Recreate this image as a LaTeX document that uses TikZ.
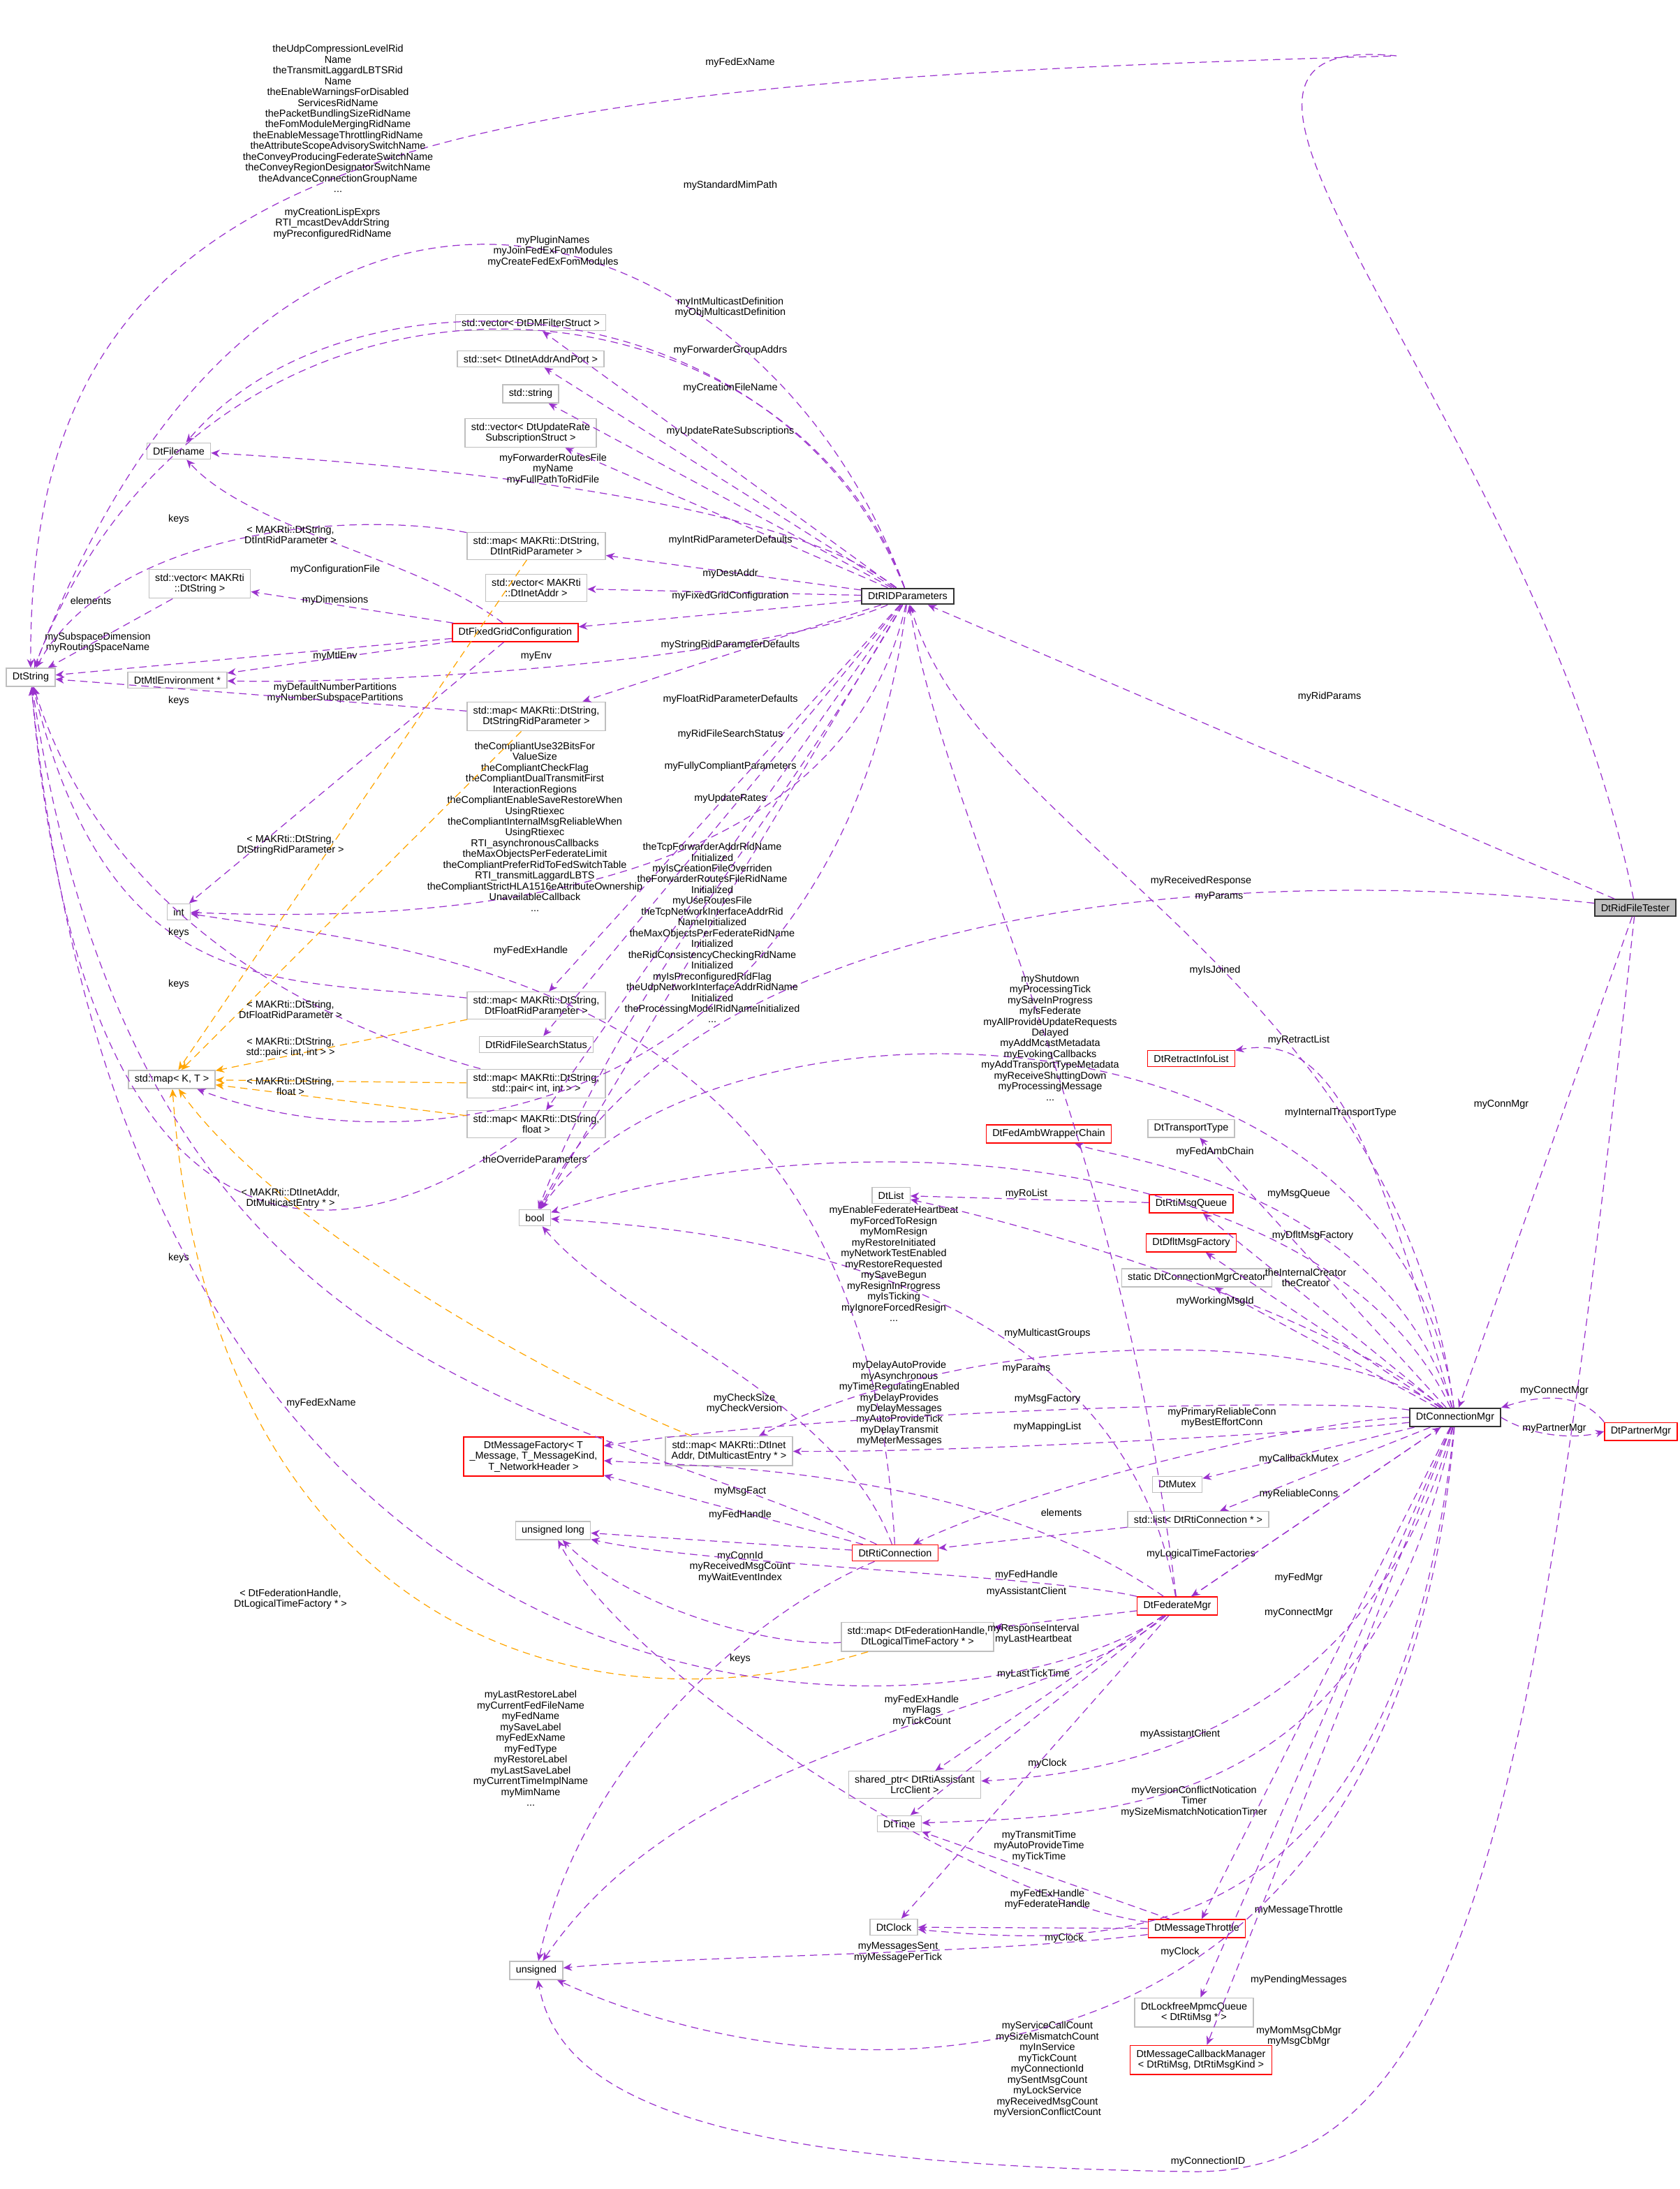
\documentclass[tikz,border=0pt]{standalone}
\usepackage{fontspec}
\setmainfont{Liberation Sans}
\usetikzlibrary{arrows.meta}
\definecolor{pur}{HTML}{9A32CD}
\definecolor{org}{HTML}{FFA500}
\definecolor{bd}{HTML}{BFBFBF}
\begin{document}
\begin{tikzpicture}[x=0.02cm,y=-0.02cm,font=\fontsize{4.1}{4.4}\selectfont,
 n/.style={draw=bd,fill=white,inner xsep=2.5pt,inner ysep=1.8pt,align=center,line width=0.4pt},
 r/.style={n,draw=red},
 e/.style={draw=pur,densely dashed,-{Stealth[length=3.5pt,width=3pt]},line width=0.35pt},
 o/.style={e,draw=org},
 l/.style={align=center,inner sep=0pt}]
\useasboundingbox (0,0) rectangle (1202.5,1567.5);
% nodes
\node[n,fill=bd,draw=black!80,line width=0.6pt] (tester) at (1171,650) {DtRidFileTester};
\node[n,draw=black!80,line width=0.6pt] (rid) at (650,427) {DtRIDParameters};
\node[n,draw=black!80,line width=0.6pt] (cm) at (1042,1015) {DtConnectionMgr};
\node[r] (pm) at (1175,1025) {DtPartnerMgr};
\node[n] (str) at (22,485) {DtString};
\node[n] (fn) at (128,323) {DtFilename};
\node[n] (vstr) at (143,418) {std::vector< MAKRti\\::DtString >};
\node[n] (mtl) at (127,487) {DtMtlEnvironment *};
\node[n] (int) at (128,653) {int};
\node[n] (mkt) at (123,773) {std::map< K, T >};
\node[n] (bool) at (383,872) {bool};
\node[n] (ul) at (396,1096) {unsigned long};
\node[n] (uns) at (384,1411) {unsigned};
\node[r] (mf) at (382,1043) {DtMessageFactory< T\\\_Message, T\_MessageKind,\\T\_NetworkHeader >};
\node[r] (rc) at (641,1112) {DtRtiConnection};
\node[r] (fgc) at (369,453) {DtFixedGridConfiguration};
\node[n] (vdm) at (380,231) {std::vector< DtDMFilterStruct >};
\node[n] (sset) at (380,257) {std::set< DtInetAddrAndPort >};
\node[n] (sstr) at (380,282) {std::string};
\node[n] (vur) at (380,310) {std::vector< DtUpdateRate\\SubscriptionStruct >};
\node[n] (mint) at (384,391) {std::map< MAKRti::DtString,\\DtIntRidParameter >};
\node[n] (vin) at (384,421) {std::vector< MAKRti\\::DtInetAddr >};
\node[n] (mstr) at (384,513) {std::map< MAKRti::DtString,\\DtStringRidParameter >};
\node[n] (mflt) at (384,720) {std::map< MAKRti::DtString,\\DtFloatRidParameter >};
\node[n] (rfs) at (384,748) {DtRidFileSearchStatus};
\node[n] (mpair) at (384,776) {std::map< MAKRti::DtString,\\std::pair< int, int > >};
\node[n] (mfl) at (384,805) {std::map< MAKRti::DtString,\\float >};
\node[n] (minet) at (522,1039) {std::map< MAKRti::DtInet\\Addr, DtMulticastEntry * >};
\node[n] (mfed) at (657,1172) {std::map< DtFederationHandle,\\DtLogicalTimeFactory * >};
\node[n] (sp) at (655,1278) {shared\_ptr< DtRtiAssistant\\LrcClient >};
\node[n] (time) at (644,1306) {DtTime};
\node[n] (clock) at (640,1380) {DtClock};
\node[r] (fm) at (843,1150) {DtFederateMgr};
\node[r] (mt) at (857,1381) {DtMessageThrottle};
\node[r] (ril) at (853,758) {DtRetractInfoList};
\node[n] (tt) at (853,808) {DtTransportType};
\node[r] (fac) at (751,812) {DtFedAmbWrapperChain};
\node[n] (list) at (638,856) {DtList};
\node[r] (mq) at (853,862) {DtRtiMsgQueue};
\node[r] (dmf) at (853,890) {DtDfltMsgFactory};
\node[n] (scc) at (857,915) {static DtConnectionMgrCreator};
\node[n] (mutex) at (843,1063) {DtMutex};
\node[n] (lrc) at (858,1088) {std::list< DtRtiConnection * >};
\node[n] (lf) at (855,1441) {DtLockfreeMpmcQueue\\< DtRtiMsg * >};
\node[r] (mcb) at (860,1475) {DtMessageCallbackManager\\< DtRtiMsg, DtRtiMsgKind >};
% tester
\coordinate (t1) at (1000,40);
\draw[e] (tester) .. controls (1100,300) and (800,20) .. (t1) .. controls (300,60) and (20,100) .. (str);
\node[l] at (530,45) {myFedExName};
\draw[e] (tester) -- (rid); \node[l] at (952,499) {myRidParams};
\draw[e] (tester) .. controls (900,620) and (500,640) .. (bool); \node[l] at (860,631) {myReceivedResponse};
\draw[e] (tester) -- (cm); \node[l] at (1075,791) {myConnMgr};
\draw[e] (tester) .. controls (1100,1300) and (1050,1560) .. (850,1555) .. controls (500,1550) and (400,1500) .. (uns);
\node[l] at (865,1548) {myConnectionID};
% rid
\draw[e] (rid) .. controls (550,150) and (200,20) .. (str);
\node[l] at (242,85) {theUdpCompressionLevelRid\\Name\\theTransmitLaggardLBTSRid\\Name\\theEnableWarningsForDisabled\\ServicesRidName\\thePacketBundlingSizeRidName\\theFomModuleMergingRidName\\theEnableMessageThrottlingRidName\\theAttributeScopeAdvisorySwitchName\\theConveyProducingFederateSwitchName\\theConveyRegionDesignatorSwitchName\\theAdvanceConnectionGroupName\\...};
\draw[e] (rid) .. controls (560,180) and (150,150) .. (str);
\node[l] at (238,160) {myCreationLispExprs\\RTI\_mcastDevAddrString\\myPreconfiguredRidName};
\node[l] at (523,133) {myStandardMimPath};
\draw[e] (rid) .. controls (560,200) and (250,180) .. (fn);
\node[l] at (396,180) {myPluginNames\\myJoinFedExFomModules\\myCreateFedExFomModules};
\draw[e] (rid) .. controls (550,350) and (250,330) .. (fn);
\node[l] at (396,336) {myForwarderRoutesFile\\myName\\myFullPathToRidFile};
\draw[e] (rid) -- (vdm); \node[l] at (523,220) {myIntMulticastDefinition\\myObjMulticastDefinition};
\draw[e] (rid) -- (sset); \node[l] at (523,251) {myForwarderGroupAddrs};
\draw[e] (rid) -- (sstr); \node[l] at (523,278) {myCreationFileName};
\draw[e] (rid) -- (vur); \node[l] at (523,309) {myUpdateRateSubscriptions};
\draw[e] (rid) -- (mint); \node[l] at (523,387) {myIntRidParameterDefaults};
\draw[e] (rid) -- (vin); \node[l] at (523,411) {myDestAddr};
\draw[e] (rid) -- (fgc); \node[l] at (523,427) {myFixedGridConfiguration};
\draw[e] (rid) .. controls (550,470) and (300,490) .. (mtl); \node[l] at (384,470) {myEnv};
\draw[e] (rid) -- (mstr); \node[l] at (523,462) {myStringRidParameterDefaults};
\draw[e] (rid) -- (mflt); \node[l] at (523,501) {myFloatRidParameterDefaults};
\draw[e] (rid) -- (rfs); \node[l] at (523,526) {myRidFileSearchStatus};
\draw[e] (rid) -- (bool); \node[l] at (523,549) {myFullyCompliantParameters};
\draw[e] (rid) -- (mfl); \node[l] at (523,572) {myUpdateRates};
\draw[e] (rid) .. controls (600,650) and (300,660) .. (int);
\node[l] at (383,592) {theCompliantUse32BitsFor\\ValueSize\\theCompliantCheckFlag\\theCompliantDualTransmitFirst\\InteractionRegions\\theCompliantEnableSaveRestoreWhen\\UsingRtiexec\\theCompliantInternalMsgReliableWhen\\UsingRtiexec\\RTI\_asynchronousCallbacks\\theMaxObjectsPerFederateLimit\\theCompliantPreferRidToFedSwitchTable\\RTI\_transmitLaggardLBTS\\theCompliantStrictHLA1516eAttributeOwnership\\UnavailableCallback\\...};
\draw[e] (rid) .. controls (550,600) and (450,700) .. (bool);
\node[l] at (510,668) {theTcpForwarderAddrRidName\\Initialized\\myIsCreationFileOverriden\\theForwarderRoutesFileRidName\\Initialized\\myUseRoutesFile\\theTcpNetworkInterfaceAddrRid\\NameInitialized\\theMaxObjectsPerFederateRidName\\Initialized\\theRidConsistencyCheckingRidName\\Initialized\\myIsPreconfiguredRidFlag\\theUdpNetworkInterfaceAddrRidName\\Initialized\\theProcessingModelRidNameInitialized\\...};
\draw[e] (rid) .. controls (600,800) and (300,840) .. (mkt); \node[l] at (383,830) {theOverrideParameters};
% fixed grid
\draw[e] (fgc) .. controls (300,400) and (180,380) .. (fn); \node[l] at (240,408) {myConfigurationFile};
\draw[e] (fgc) -- (vstr); \node[l] at (240,430) {myDimensions};
\draw[e] (fgc) -- (str); \node[l] at (70,460) {mySubspaceDimension\\myRoutingSpaceName};
\draw[e] (fgc) -- (mtl); \node[l] at (240,470) {myMtlEnv};
\draw[e] (fgc) -- (int); \node[l] at (240,496) {myDefaultNumberPartitions\\myNumberSubspacePartitions};
\draw[e] (vstr) -- (str); \node[l] at (65,430) {elements};
% keys
\draw[e] (mint) .. controls (250,365) and (80,380) .. (str); \node[l] at (128,372) {keys};
\draw[e] (mstr) -- (str); \node[l] at (128,502) {keys};
\draw[e] (mflt) .. controls (200,700) and (80,720) .. (str); \node[l] at (128,705) {keys};
\draw[e] (mpair) .. controls (250,740) and (80,670) .. (str); \node[l] at (128,668) {keys};
\draw[e] (mfl) .. controls (250,900) and (60,930) .. (str); \node[l] at (128,901) {keys};
% template
\draw[o] (mint) -- (mkt); \node[l] at (208,383) {< MAKRti::DtString,\\DtIntRidParameter >};
\draw[o] (mstr) -- (mkt); \node[l] at (208,605) {< MAKRti::DtString,\\DtStringRidParameter >};
\draw[o] (mflt) -- (mkt); \node[l] at (208,723) {< MAKRti::DtString,\\DtFloatRidParameter >};
\draw[o] (mpair) -- (mkt); \node[l] at (208,750) {< MAKRti::DtString,\\std::pair< int, int > >};
\draw[o] (mfl) -- (mkt); \node[l] at (208,778) {< MAKRti::DtString,\\float >};
\draw[o] (minet) .. controls (400,990) and (200,880) .. (mkt); \node[l] at (208,858) {< MAKRti::DtInetAddr,\\DtMulticastEntry * >};
\draw[o] (mfed) .. controls (400,1250) and (150,1150) .. (mkt); \node[l] at (208,1145) {< DtFederationHandle,\\DtLogicalTimeFactory * >};
% rti connection
\draw[e] (rc) -- (mf); \node[l] at (530,1068) {myMsgFact};
\draw[e] (rc) -- (ul); \node[l] at (530,1085) {myFedHandle};
\draw[e] (rc) .. controls (400,1000) and (100,1000) .. (str); \node[l] at (230,1005) {myFedExName};
\draw[e] (rc) .. controls (600,1000) and (450,950) .. (bool); \node[l] at (533,1005) {myCheckSize\\myCheckVersion};
\draw[e] (rc) .. controls (620,700) and (300,680) .. (int); \node[l] at (380,681) {myFedExHandle};
\draw[e] (rc) .. controls (550,1150) and (420,1250) .. (uns); \node[l] at (530,1122) {myConnId\\myReceivedMsgCount\\myWaitEventIndex};
\draw[e] (mfed) .. controls (550,1180) and (450,1150) .. (ul); \node[l] at (530,1188) {keys};
\draw[e] (lrc) -- (rc); \node[l] at (760,1083) {elements};
% federate mgr
\draw[e] (fm) .. controls (700,1250) and (100,1300) .. (str);
\node[l] at (380,1252) {myLastRestoreLabel\\myCurrentFedFileName\\myFedName\\mySaveLabel\\myFedExName\\myFedType\\myRestoreLabel\\myLastSaveLabel\\myCurrentTimeImplName\\myMimName\\...};
\draw[e] (fm) .. controls (800,900) and (500,880) .. (bool);
\node[l] at (640,905) {myEnableFederateHeartbeat\\myForcedToResign\\myMomResign\\myRestoreInitiated\\myNetworkTestEnabled\\myRestoreRequested\\mySaveBegun\\myResignInProgress\\myIsTicking\\myIgnoreForcedResign\\...};
\draw[e] (fm) .. controls (800,800) and (680,600) .. (rid); \node[l] at (735,980) {myParams};
\draw[e] (fm) .. controls (700,1050) and (500,1050) .. (mf);
\node[l] at (644,1005) {myDelayAutoProvide\\myAsynchronous\\myTimeRegulatingEnabled\\myDelayProvides\\myDelayMessages\\myAutoProvideTick\\myDelayTransmit\\myMeterMessages};
\draw[e] (fm) -- (mfed); \node[l] at (860,1113) {myLogicalTimeFactories};
\draw[e] (fm) .. controls (750,1128) and (500,1120) .. (ul); \node[l] at (735,1128) {myFedHandle};
\draw[e] (fm) -- (sp); \node[l] at (735,1140) {myAssistantClient};
\draw[e] (fm) -- (time); \node[l] at (740,1170) {myResponseInterval\\myLastHeartbeat};
\node[l] at (740,1199) {myLastTickTime};
\draw[e] (fm) .. controls (750,1230) and (500,1240) .. (uns); \node[l] at (660,1225) {myFedExHandle\\myFlags\\myTickCount};
\draw[e] (fm) -- (clock); \node[l] at (750,1263) {myClock};
\draw[e] (fm) -- (cm); \node[l] at (930,1155) {myConnectMgr};
% throttle
\draw[e] (mt) -- (time); \node[l] at (744,1322) {myTransmitTime\\myAutoProvideTime\\myTickTime};
\draw[e] (mt) -- (clock); \node[l] at (762,1388) {myClock};
\draw[e] (mt) .. controls (700,1400) and (500,1400) .. (uns); \node[l] at (643,1398) {myMessagesSent\\myMessagePerTick};
\draw[e] (mt) .. controls (700,1360) and (450,1200) .. (ul); \node[l] at (750,1360) {myFedExHandle\\myFederateHandle};
\draw[e] (mq) -- (list); \node[l] at (735,855) {myRoList};
% connection mgr
\draw[e] (cm) .. controls (1000,700) and (700,600) .. (rid); \node[l] at (873,642) {myParams};
\draw[e] (cm) .. controls (1000,700) and (500,700) .. (bool); \node[l] at (870,695) {myIsJoined};
\draw[e] (cm) .. controls (950,820) and (600,800) .. (bool);
\node[l] at (752,743) {myShutdown\\myProcessingTick\\mySaveInProgress\\myIsFederate\\myAllProvideUpdateRequests\\Delayed\\myAddMcastMetadata\\myEvokingCallbacks\\myAddTransportTypeMetadata\\myReceiveShuttingDown\\myProcessingMessage\\...};
\draw[e] (cm) .. controls (980,800) and (950,740) .. (ril); \node[l] at (930,745) {myRetractList};
\draw[e] (cm) -- (tt); \node[l] at (960,797) {myInternalTransportType};
\draw[e] (cm) .. controls (990,850) and (800,830) .. (fac); \node[l] at (870,825) {myFedAmbChain};
\draw[e] (cm) -- (mq); \node[l] at (930,855) {myMsgQueue};
\draw[e] (cm) -- (dmf); \node[l] at (940,885) {myDfltMsgFactory};
\draw[e] (cm) -- (scc); \node[l] at (935,915) {theInternalCreator\\theCreator};
\draw[e] (cm) .. controls (950,940) and (750,880) .. (list); \node[l] at (870,932) {myWorkingMsgId};
\draw[e] (cm) .. controls (950,950) and (700,950) .. (minet); \node[l] at (750,955) {myMulticastGroups};
\draw[e] (cm) .. controls (950,1000) and (600,1010) .. (mf); \node[l] at (750,1002) {myMsgFactory};
\draw[e] (cm) .. controls (950,1015) and (750,1060) .. (rc); \node[l] at (875,1015) {myPrimaryReliableConn\\myBestEffortConn};
\draw[e] (cm) .. controls (950,1025) and (700,1040) .. (minet); \node[l] at (750,1022) {myMappingList};
\draw[e] (cm) -- (mutex); \node[l] at (930,1045) {myCallbackMutex};
\draw[e] (cm) -- (lrc); \node[l] at (930,1070) {myReliableConns};
\draw[e] (cm) -- (fm); \node[l] at (930,1130) {myFedMgr};
\draw[e] (cm) .. controls (980,1240) and (800,1270) .. (sp); \node[l] at (845,1242) {myAssistantClient};
\draw[e] (cm) .. controls (980,1300) and (800,1300) .. (time); \node[l] at (855,1290) {myVersionConflictNotication\\Timer\\mySizeMismatchNoticationTimer};
\draw[e] (cm) -- (mt); \node[l] at (930,1368) {myMessageThrottle};
\draw[e] (cm) .. controls (1000,1400) and (800,1395) .. (clock); \node[l] at (845,1398) {myClock};
\draw[e] (cm) .. controls (1000,1520) and (600,1510) .. (uns);
\node[l] at (750,1482) {myServiceCallCount\\mySizeMismatchCount\\myInService\\myTickCount\\myConnectionId\\mySentMsgCount\\myLockService\\myReceivedMsgCount\\myVersionConflictCount};
\draw[e] (cm) -- (lf); \node[l] at (930,1418) {myPendingMessages};
\draw[e] (cm) -- (mcb); \node[l] at (930,1458) {myMomMsgCbMgr\\myMsgCbMgr};
\draw[e] (pm.north west) .. controls (1130,995) and (1100,1000) .. (cm.north east); \node[l] at (1113,996) {myConnectMgr};
\draw[e] (cm.east) .. controls (1100,1030) and (1130,1030) .. (pm.west); \node[l] at (1113,1023) {myPartnerMgr};
\end{tikzpicture}
\end{document}
